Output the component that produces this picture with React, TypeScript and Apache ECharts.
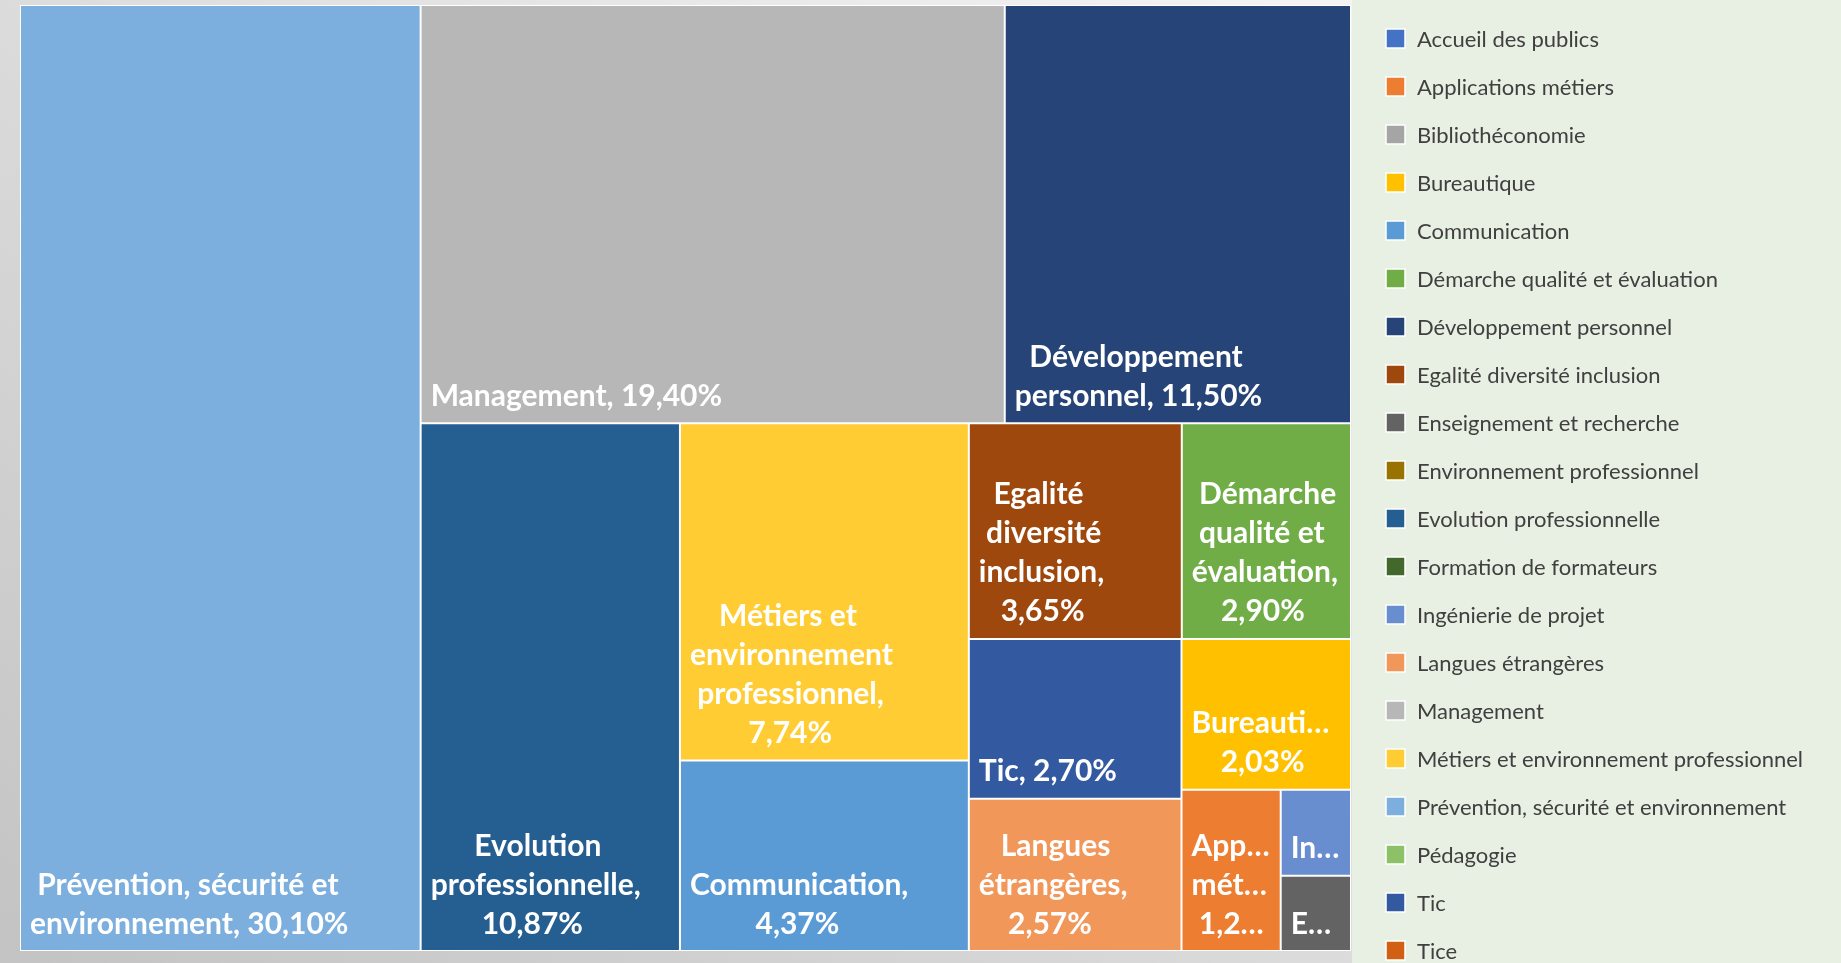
import React, { useEffect, useRef } from 'react';
import * as echarts from 'echarts';

const WIDTH = 1841;
const HEIGHT = 963;

// Legend / category list (alphabetical, as in the reference legend)
const categories = [
  'Accueil des publics',
  'Applications métiers',
  'Bibliothéconomie',
  'Bureautique',
  'Communication',
  'Démarche qualité et évaluation',
  'Développement personnel',
  'Egalité diversité inclusion',
  'Enseignement et recherche',
  'Environnement professionnel',
  'Evolution professionnelle',
  'Formation de formateurs',
  'Ingénierie de projet',
  'Langues étrangères',
  'Management',
  'Métiers et environnement professionnel',
  'Prévention, sécurité et environnement',
  'Pédagogie',
  'Tic',
  'Tice',
];

// Share of each category, in percent
const shares = [0, 1.27, 0, 2.03, 4.37, 2.9, 11.5, 3.65, 0.42, 0, 10.87, 0, 0.48, 2.57, 19.4, 7.74, 30.1, 0, 2.7, 0];

const colors = [
  '#4472C4', '#ED7D31', '#A5A5A5', '#FFC000', '#5B9BD5', '#70AD47', '#264478', '#9E480E', '#636363', '#997300',
  '#255E91', '#43682B', '#698ED0', '#F1975A', '#B7B7B7', '#FFCD33', '#7CAFDD', '#8CC168', '#335AA1', '#D26012',
];

// Strips of the treemap, in the order the reference lays them out
const layoutStrips = [
  ['Prévention, sécurité et environnement'],
  ['Management', 'Développement personnel'],
  ['Evolution professionnelle'],
  ['Métiers et environnement professionnel', 'Communication'],
  ['Egalité diversité inclusion', 'Démarche qualité et évaluation'],
  ['Tic', 'Langues étrangères'],
  ['Bureautique'],
  ['Applications métiers'],
  ['Ingénierie de projet', 'Enseignement et recherche'],
];

const LABEL_FAMILY = 'Lato';
const LABEL_SIZE = 30;
const LABEL_LINE = 39;
const LABEL_PAD = [7, 8, 9, 9];
const CELL_BORDER = 1;

const LEGEND_FAMILY = 'Lato';
const LEGEND_SIZE = 22;

function leaf(name: string) {
  const i = categories.indexOf(name);
  return {
    name,
    value: shares[i],
    itemStyle: { color: colors[i], borderWidth: CELL_BORDER, borderColor: '#ffffff', gapWidth: 0 },
  };
}

function strip(names: string[]): any {
  if (names.length === 1) return leaf(names[0]);
  return {
    name: names.join(' / '),
    itemStyle: { borderWidth: 0, gapWidth: 0, borderColor: '#ffffff' },
    children: names.map(leaf),
  };
}

function nest(k: number): any {
  if (k === layoutStrips.length - 1) return strip(layoutStrips[k]);
  return {
    name: 'groupe ' + k,
    itemStyle: { borderWidth: 0, gapWidth: 0, borderColor: '#ffffff' },
    children: [strip(layoutStrips[k]), nest(k + 1)],
  };
}

export default function App() {
  const ref = useRef<HTMLDivElement>(null);

  useEffect(() => {
    if (!ref.current) return;
    document.body.style.margin = '0';
    const chart = echarts.init(ref.current, undefined, { renderer: 'svg' });

    const canvas = document.createElement('canvas');
    const ctx = canvas.getContext('2d');
    const labelFont = `bold ${LABEL_SIZE}px ${LABEL_FAMILY}`;
    const measure = (s: string) => {
      if (!ctx) return s.length * LABEL_SIZE * 0.5;
      ctx.font = labelFont;
      return ctx.measureText(s).width;
    };
    const fmtPct = (v: number) => v.toFixed(2).replace('.', ',') + '%';

    const truncate = (line: string, availW: number) => {
      if (measure(line) <= availW) return line;
      for (let n = line.length - 1; n >= 1; n--) {
        const cand = line.slice(0, n) + '…';
        if (measure(cand) <= availW) return cand;
      }
      return line.slice(0, 1) + '…';
    };

    const wrap = (text: string, availW: number, availH: number) => {
      const words = text.split(' ');
      const lines: string[] = [];
      let cur = '';
      for (const w of words) {
        const cand = cur ? cur + ' ' + w : w;
        if (!cur || measure(cand) <= availW) cur = cand;
        else {
          lines.push(cur);
          cur = w;
        }
      }
      if (cur) lines.push(cur);
      let fitted = lines.map((l) => truncate(l, availW));
      const maxLines = Math.max(0, Math.floor((availH + 0.01) / LABEL_LINE));
      fitted = fitted.slice(0, maxLines);
      if (!fitted.length) return '';
      const widths = fitted.map(measure);
      const blockW = Math.max(...widths);
      const nb = '\u00a0';
      const nbW = measure(nb) || 7;
      return fitted
        .map((l, i) => {
          let n = Math.round((blockW - widths[i]) / 2 / nbW);
          while (n > 0 && widths[i] + n * nbW > availW) n--;
          return nb.repeat(Math.max(0, n)) + l;
        })
        .join('\n');
    };

    const labelFormatter = (p: any) => {
      const v = Array.isArray(p.value) ? p.value[0] : p.value;
      const text = `${p.name}, ${fmtPct(v)}`;
      let lay: any = null;
      try {
        lay = (chart as any).getModel().getSeriesByIndex(0).getData().getItemLayout(p.dataIndex);
      } catch (e) {
        lay = null;
      }
      if (!lay || !lay.width) return text;
      const availW = lay.width - 2 * CELL_BORDER - LABEL_PAD[1] - LABEL_PAD[3] - 0.5;
      const availH = lay.height - 2 * CELL_BORDER - LABEL_PAD[0] - LABEL_PAD[2];
      return wrap(text, availW, availH);
    };

    const treeData = [strip(layoutStrips[0]), nest(1)];

    const legendItems: any[] = [];
    categories.forEach((name, i) => {
      const cy = 38.5 + 48 * i;
      legendItems.push({
        type: 'rect',
        z: 30,
        silent: true,
        shape: { x: 1386, y: cy - 9.5, width: 19, height: 19 },
        style: { fill: colors[i], stroke: '#ffffff', lineWidth: 1.5 },
      });
      legendItems.push({
        type: 'text',
        z: 30,
        silent: true,
        x: 1417,
        y: cy - 0.5,
        style: {
          text: name,
          fill: '#404040',
          fontFamily: LEGEND_FAMILY,
          fontSize: LEGEND_SIZE,
          align: 'left',
          verticalAlign: 'middle',
        },
      });
    });

    const option: any = {
      animation: false,
      graphic: {
        elements: [
          {
            type: 'rect',
            z: -10,
            silent: true,
            shape: { x: 0, y: 0, width: 1352, height: HEIGHT },
            style: {
              fill: new echarts.graphic.LinearGradient(0, 1, 1, 0, [
                { offset: 0, color: '#c3c3c3' },
                { offset: 1, color: '#f4f4f4' },
              ]),
            },
          },
          {
            type: 'rect',
            z: 10,
            silent: true,
            shape: { x: 1352, y: 0, width: WIDTH - 1352, height: HEIGHT },
            style: { fill: '#e8efe3' },
          },
          ...legendItems,
        ],
      },
      series: [
        {
          type: 'treemap',
          left: 20,
          top: 5,
          width: 1331,
          height: 946,
          sort: false,
          squareRatio: 0.7,
          roam: false,
          nodeClick: false,
          breadcrumb: { show: false },
          itemStyle: { borderWidth: 0, gapWidth: 0, borderColor: '#ffffff' },
          upperLabel: { show: false },
          label: {
            show: true,
            position: 'insideBottomLeft',
            distance: 0,
            padding: LABEL_PAD,
            fontFamily: LABEL_FAMILY,
            fontSize: LABEL_SIZE,
            fontWeight: 'bold',
            lineHeight: LABEL_LINE,
            color: '#ffffff',
            overflow: 'truncate',
            ellipsis: '…',
            formatter: labelFormatter,
          },
          data: treeData,
        },
      ],
    };

    chart.setOption(option);
    return () => chart.dispose();
  }, []);

  return <div ref={ref} style={{ position: 'fixed', left: 0, top: 0, width: WIDTH, height: HEIGHT }} />;
}
